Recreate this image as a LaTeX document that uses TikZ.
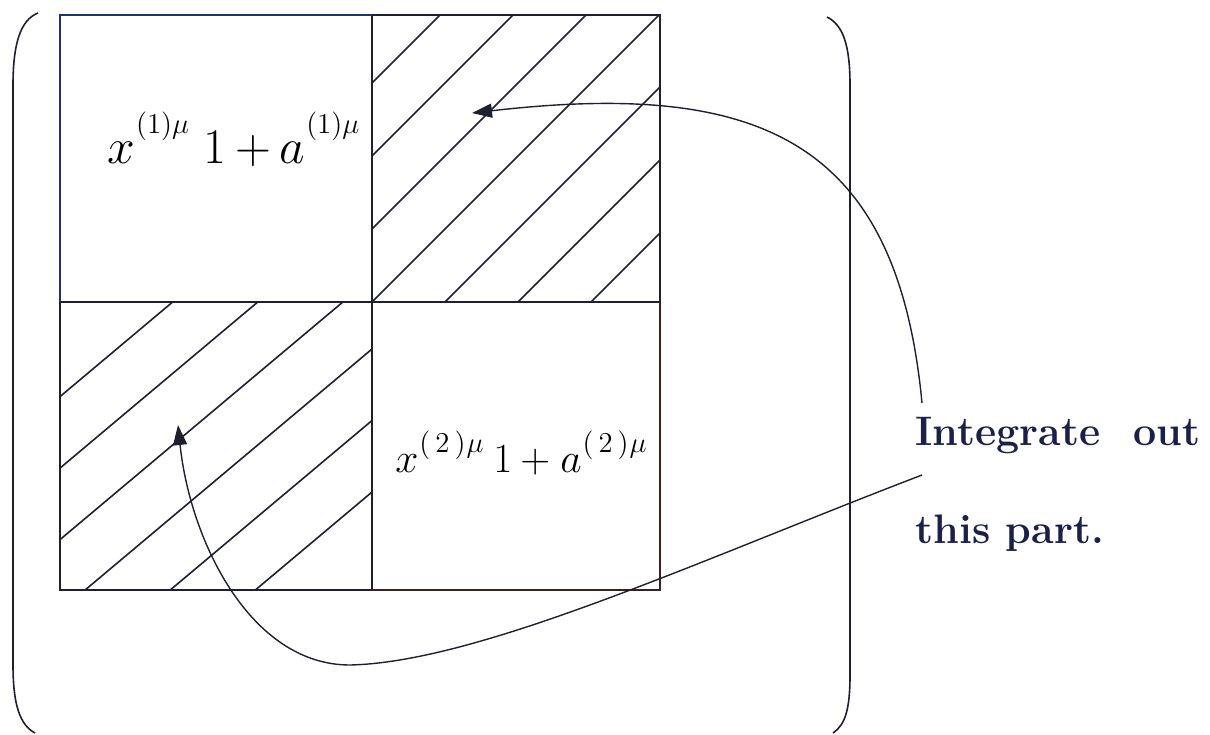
\documentclass[tikz,border=0pt]{standalone}
\usepackage{fontspec}
\usetikzlibrary{arrows.meta}
\definecolor{ink}{HTML}{1E2030}
\definecolor{inkblue}{HTML}{22307A}
\definecolor{inkbrown}{HTML}{3A2222}
\definecolor{navy}{HTML}{1A2048}
\tikzset{
  frame/.style={draw=ink, line width=1.4pt},
  hatch/.style={draw=ink, line width=0.8pt},
  paren/.style={draw=ink, line width=0.8pt},
  conn/.style={draw=ink, line width=0.7pt, -{Triangle[length=10pt,width=7pt]}},
  mathlbl/.style={inner sep=0pt, anchor=base west, text=black},
  note/.style={inner sep=0pt, anchor=base west, text=navy, font=\fontsize{20.6}{25}\selectfont\bfseries}
}
\begin{document}
\begin{tikzpicture}[x=0.5pt,y=-0.5pt]
\useasboundingbox (0,0) rectangle (1210,734);
% corners of the grid
\coordinate (TL) at (60,15);
\coordinate (TM) at (372,15);
\coordinate (TR) at (660,15);
\coordinate (ML) at (60,302);
\coordinate (C)  at (372,302);
\coordinate (MR) at (660,302);
\coordinate (BL) at (60,590);
\coordinate (BM) at (372,590);
\coordinate (BR) at (660,590);
% hatching, top right
\begin{scope}
  \clip (TM) rectangle (MR);
  \foreach \k in {-3,...,3}{
    \pgfmathsetmacro{\c}{674+73*\k}
    \draw[hatch] (\c-400,400) -- (\c+50,-50);
  }
\end{scope}
% hatching, bottom left
\begin{scope}
  \clip (ML) rectangle (BM);
  \foreach \k in {0,...,5}{
    \pgfmathsetmacro{\c}{447+71.5*\k}
    \draw[hatch] (0,\c) -- (450,\c-378);
  }
\end{scope}
% grid frame
\draw[frame] (TM) -- (TR) -- (MR) -- (BR);
\draw[frame] (ML) -- (BL) -- (BM);
\draw[frame] (ML) -- (MR);
\draw[frame] (TM) -- (BM);
\draw[frame, draw=inkblue] (ML) -- (TL) -- (TM);
\draw[frame, draw=inkbrown] (BM) -- (BR) -- (MR);
% parentheses
\draw[paren] (38,13) .. controls (20,20) and (13,45) .. (13,85) -- (13,665) .. controls (13,705) and (20,725) .. (35,733);
\draw[paren] (827,17) .. controls (843,25) and (850,45) .. (850,85) -- (850,675) .. controls (850,710) and (845,725) .. (833,733);
% labels
\node[mathlbl, font=\fontsize{25}{30}\selectfont] (m1) at (107,163)
  {$x$\kern0.5pt\raisebox{15pt}{\fontsize{15}{15}\selectfont$(1)\mu$}\hspace{7pt}$1$\hspace{5pt}$+$\hspace{4pt}$a$\kern0.5pt\raisebox{15pt}{\fontsize{15}{15}\selectfont$(1)\mu$}};
\node[mathlbl, font=\fontsize{22}{26}\selectfont] (m2) at (395,472)
  {$x$\kern0.5pt\raisebox{10pt}{\fontsize{14}{14}\selectfont$(\kern2.5pt2\kern2.5pt)\kern0.5pt\mu$}\hspace{5pt}$1$\hspace{4pt}$+$\hspace{5pt}$a$\kern0.5pt\raisebox{10pt}{\fontsize{14}{14}\selectfont$(\kern2.5pt2\kern2.5pt)\kern0.5pt\mu$}};
\node[note] (n1) at (915,445) {Integrate\hspace{0.8em}out};
\node[note] (n2) at (915,543) {this part.};
% connectors
\coordinate (s1) at (922,403);
\coordinate (t1) at (472,113);
\coordinate (s2) at (922,475);
\coordinate (b2) at (350,665);
\coordinate (t2) at (178,425);
\draw[conn] (s1) .. controls (897,140) and (760,80) .. (t1);
\draw[conn] (s2) .. controls (700,560) and (480,662) .. (b2) .. controls (250,665) and (190,540) .. (t2);
\end{tikzpicture}
\end{document}
